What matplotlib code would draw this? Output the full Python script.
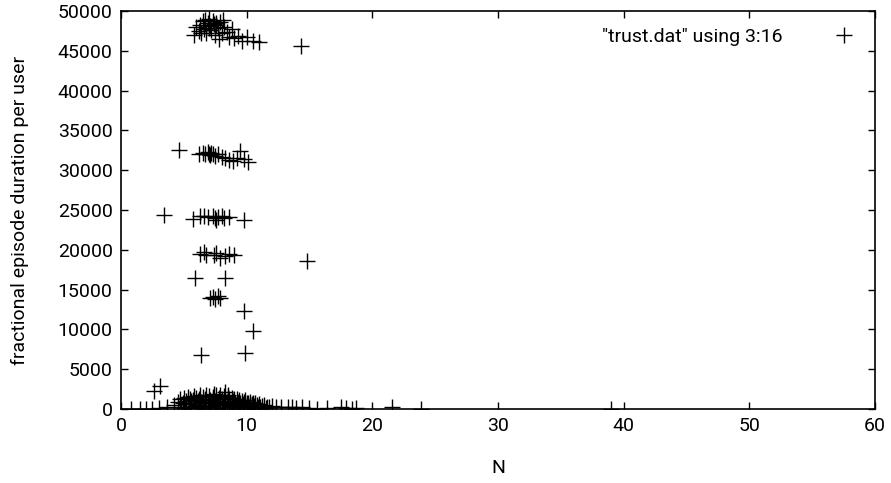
import matplotlib.pyplot as plt

plt.rcParams['font.family'] = ['Roboto', 'DejaVu Sans']

# column 3 (N) and column 16 (fractional episode duration per user)
topX = [5.8, 6.0, 6.2, 6.3, 6.5, 6.6, 6.7, 6.8, 6.9, 7.0, 7.1, 7.2, 7.3, 7.4, 7.5, 7.6,
        7.7, 7.8, 7.9, 8.0, 8.2, 8.4, 8.6, 8.8, 9.0, 9.3, 9.6, 10.0, 10.5, 11.0, 14.3,
        6.4, 7.0, 7.6, 8.1]
topY = [47000, 48000, 47500, 48300, 48700, 47800, 48900, 47200, 48500, 49000, 48100,
        47600, 48800, 48400, 47000, 48200, 47900, 46500, 48600, 47300, 48000, 47400,
        46800, 47700, 46600, 46900, 46300, 46700, 46200, 46100, 45600,
        47200, 47900, 48500, 48900]

midX = [4.6, 6.2, 6.5, 6.7, 6.9, 7.0, 7.1, 7.2, 7.3, 7.5, 7.7, 8.0, 8.3, 8.6, 8.9, 9.2,
        9.5, 9.8, 10.1,
        3.4, 5.7, 6.3, 6.6, 6.9, 7.3, 7.5, 7.6, 7.7, 8.0, 8.2, 8.6, 9.8,
        6.3, 6.6, 6.8, 7.4, 7.6, 7.9, 8.3, 8.6, 9.0, 14.8,
        5.9, 8.3,
        7.1, 7.3, 7.5, 7.7, 7.9,
        9.8, 10.5, 9.9, 6.4,
        3.1, 2.6]
midY = [32500, 32100, 32200, 32000, 32300, 32100, 31900, 32200, 32000, 31800, 32100,
        31700, 31600, 31300, 31200, 31500, 32400, 31400, 31000,
        24400, 23900, 24200, 24300, 24100, 24200, 24000, 23700, 24100, 24300, 24000,
        24100, 23700,
        19500, 19700, 19400, 19300, 19600, 19000, 19200, 19500, 19300, 18600,
        16400, 16400,
        13900, 14100, 13800, 14200, 13900,
        12300, 9800, 7000, 6800,
        2900, 2200]

lowX = [0.8, 1.5, 2.0, 2.5, 3.0, 3.7, 4.2, 4.5, 4.7, 4.9, 5.0, 5.1, 5.2, 5.3, 5.4, 5.5,
        5.6, 5.7, 5.8, 5.9, 6.0, 6.1, 6.2, 6.3, 6.4, 6.5, 6.6, 6.7, 6.8, 6.9, 7.0, 7.1,
        7.2, 7.3, 7.4, 7.5, 7.6, 7.7, 7.8, 7.9, 8.0, 8.1, 8.2, 8.3, 8.4, 8.5, 8.6, 8.7,
        8.8, 8.9, 9.0, 9.1, 9.2, 9.3, 9.4, 9.5, 9.6, 9.7, 9.8, 9.9, 10.0, 10.1, 10.2,
        10.3, 10.4, 10.5, 10.6, 10.7, 10.8, 10.9, 11.0, 11.2, 11.4, 11.6, 11.8, 12.0,
        12.3, 12.7, 13.3, 13.6, 13.9, 14.4, 15.0, 15.6, 16.4, 17.5, 17.9, 18.4, 18.7,
        21.6, 23.9, 39.0,
        4.8, 5.2, 5.5, 5.9, 6.2, 6.5, 6.8, 7.1, 7.4, 7.7, 8.0, 8.3, 8.6, 8.9, 9.2, 9.5,
        9.8, 10.1, 10.4, 10.7, 5.0, 5.6, 6.3, 7.0, 7.6, 8.2, 8.8, 9.4, 10.0, 10.6,
        6.1, 6.7, 7.3, 7.9, 8.5, 9.1, 9.7, 10.3, 11.1, 11.5]
lowY = [0, 0, 0, 0, 100, 300, 500, 900, 1200, 700, 1400, 300, 1000, 1500, 600, 1300,
        200, 1100, 1600, 800, 1400, 500, 1200, 1700, 900, 1500, 300, 1300, 1800, 700,
        1600, 1100, 400, 1500, 1900, 1000, 1700, 600, 1400, 1800, 1200, 300, 1600, 2100,
        900, 1500, 1200, 700, 1400, 1000, 1300, 500, 1200, 900, 1100, 700, 1000, 400,
        900, 1100, 700, 800, 300, 900, 600, 800, 400, 700, 500, 300, 600, 400, 500, 200,
        300, 400, 200, 300, 200, 300, 100, 200, 100, 0, 100, 200, 100, 0, 100,
        200, 0, 0,
        200, 600, 100, 400, 800, 100, 500, 200, 900, 100, 500, 800, 200, 600, 100, 400,
        300, 100, 500, 200, 100, 1000, 400, 700, 300, 900, 400, 200, 600, 300,
        1000, 1100, 1300, 700, 1700, 800, 600, 500, 200, 100]

xs = topX + midX + lowX
ys = topY + midY + lowY

fig = plt.figure(figsize=(8.91, 4.83), dpi=100)
ax = fig.add_axes([0.1358, 0.1532, 0.982 - 0.1358, 0.977 - 0.1532])

ax.plot(xs, ys, linestyle='none', marker='+', markersize=11, markeredgewidth=1.0,
        color='black', label='"trust.dat" using 3:16', clip_on=True)

ax.set_xlim(0, 60)
ax.set_ylim(0, 50000)
ax.set_xticks(range(0, 61, 10))
ax.set_yticks(range(0, 50001, 5000))
ax.tick_params(direction='in', top=True, right=True, length=5, width=1, labelsize=14,
               pad=6)
for sp in ax.spines.values():
    sp.set_linewidth(1.2)

ax.set_xlabel('N', fontsize=14)
ax.set_ylabel('fractional episode duration per user', fontsize=14)
ax.xaxis.set_label_coords(0.5, -0.125)
ax.yaxis.set_label_coords(-0.122, 0.5)

leg = ax.legend(loc='upper right', frameon=False, markerfirst=False, fontsize=14,
                handlelength=1.5, borderaxespad=0.45, handletextpad=2.4)

fig.savefig('out.png', dpi=100)
